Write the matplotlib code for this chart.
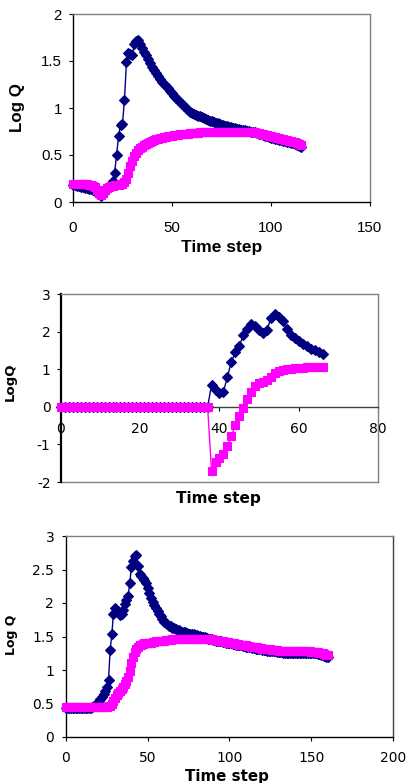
import matplotlib
matplotlib.use("Agg")
import matplotlib.pyplot as plt
import numpy as np

# ---------------- data ----------------
# Chart 1 (time steps 0..115)
t1 = list(range(0, 116))
blue1 = [0.18, 0.18, 0.17, 0.17, 0.16, 0.16, 0.15, 0.15, 0.14, 0.14,
         0.13, 0.12, 0.10, 0.08, 0.06, 0.09, 0.12, 0.15, 0.16, 0.18,
         0.22, 0.31, 0.50, 0.70, 0.82, 0.83, 1.09, 1.49, 1.58, 1.57,
         1.56, 1.68, 1.71, 1.72, 1.68, 1.64, 1.60, 1.56, 1.52, 1.48,
         1.44, 1.40, 1.37, 1.34, 1.31, 1.28, 1.26, 1.23, 1.21, 1.18,
         1.16, 1.13, 1.11, 1.08, 1.06, 1.04, 1.02, 1.00, 0.98, 0.96,
         0.95, 0.94, 0.93, 0.92, 0.91, 0.90, 0.89, 0.88, 0.87, 0.86,
         0.86, 0.85, 0.84, 0.84, 0.83, 0.82, 0.82, 0.81, 0.81, 0.80,
         0.80, 0.79, 0.79, 0.78, 0.78, 0.77, 0.77, 0.77, 0.76, 0.76,
         0.75, 0.75, 0.74, 0.73, 0.72, 0.72, 0.71, 0.70, 0.70, 0.69,
         0.68, 0.68, 0.67, 0.67, 0.66, 0.66, 0.65, 0.65, 0.64, 0.64,
         0.63, 0.63, 0.62, 0.61, 0.60, 0.59]
magenta1 = [0.19, 0.19, 0.19, 0.19, 0.19, 0.19, 0.19, 0.19, 0.18, 0.18,
            0.17, 0.16, 0.13, 0.10, 0.07, 0.10, 0.13, 0.15, 0.16, 0.17,
            0.17, 0.18, 0.18, 0.18, 0.19, 0.19, 0.21, 0.25, 0.31, 0.38,
            0.44, 0.49, 0.52, 0.55, 0.57, 0.59, 0.61, 0.62, 0.63, 0.64,
            0.65, 0.66, 0.67, 0.67, 0.68, 0.68, 0.69, 0.69, 0.70, 0.70,
            0.70, 0.71, 0.71, 0.71, 0.72, 0.72, 0.72, 0.72, 0.72, 0.73,
            0.73, 0.73, 0.73, 0.73, 0.74, 0.74, 0.74, 0.74, 0.74, 0.74,
            0.75, 0.75, 0.75, 0.75, 0.75, 0.75, 0.75, 0.75, 0.75, 0.75,
            0.75, 0.75, 0.75, 0.75, 0.75, 0.75, 0.75, 0.75, 0.75, 0.75,
            0.75, 0.74, 0.74, 0.73, 0.73, 0.72, 0.72, 0.71, 0.71, 0.70,
            0.70, 0.69, 0.69, 0.68, 0.68, 0.67, 0.67, 0.66, 0.66, 0.65,
            0.65, 0.64, 0.64, 0.63, 0.62, 0.61]

# Chart 2 (time steps 0..66)
t2 = list(range(0, 67))
blue2 = [0.0, 0.0, 0.0, 0.0, 0.0, 0.0, 0.0, 0.0, 0.0, 0.0,
         0.0, 0.0, 0.0, 0.0, 0.0, 0.0, 0.0, 0.0, 0.0, 0.0,
         0.0, 0.0, 0.0, 0.0, 0.0, 0.0, 0.0, 0.0, 0.0, 0.0,
         0.0, 0.0, 0.0, 0.0, 0.0, 0.0, 0.0, 0.0,
         0.58, 0.45, 0.36, 0.40, 0.80, 1.20, 1.45, 1.62, 1.90, 2.08,
         2.20, 2.15, 2.05, 1.96, 2.05, 2.37, 2.46, 2.38, 2.27, 2.07,
         1.92, 1.82, 1.74, 1.67, 1.61, 1.55, 1.50, 1.45, 1.40]
magenta2 = [0.0, 0.0, 0.0, 0.0, 0.0, 0.0, 0.0, 0.0, 0.0, 0.0,
            0.0, 0.0, 0.0, 0.0, 0.0, 0.0, 0.0, 0.0, 0.0, 0.0,
            0.0, 0.0, 0.0, 0.0, 0.0, 0.0, 0.0, 0.0, 0.0, 0.0,
            0.0, 0.0, 0.0, 0.0, 0.0, 0.0, 0.0, 0.0,
            -1.72, -1.47, -1.35, -1.25, -1.05, -0.78, -0.48, -0.25, -0.02, 0.20,
            0.40, 0.55, 0.62, 0.66, 0.72, 0.80, 0.90, 0.96, 0.99, 1.00,
            1.01, 1.02, 1.03, 1.04, 1.05, 1.05, 1.05, 1.05, 1.05]

# Chart 3 (time steps 0..160)
t3 = list(range(0, 161))
blue3 = [0.44, 0.44, 0.44, 0.44, 0.44, 0.44, 0.44, 0.44, 0.44, 0.44,
         0.44, 0.44, 0.44, 0.44, 0.44, 0.44, 0.45, 0.46, 0.48, 0.50,
         0.53, 0.56, 0.60, 0.64, 0.68, 0.74, 0.85, 1.30, 1.53, 1.83,
         1.92, 1.86, 1.88, 1.82, 1.84, 1.90, 1.98, 2.04, 2.10, 2.30,
         2.54, 2.62, 2.70, 2.71, 2.55, 2.43, 2.40, 2.37, 2.34, 2.30,
         2.22, 2.15, 2.08, 2.02, 1.97, 1.92, 1.88, 1.84, 1.80, 1.76,
         1.72, 1.70, 1.68, 1.66, 1.65, 1.63, 1.62, 1.61, 1.60, 1.59,
         1.58, 1.57, 1.56, 1.56, 1.55, 1.54, 1.54, 1.53, 1.53, 1.52,
         1.52, 1.51, 1.51, 1.50, 1.50, 1.49, 1.48, 1.47, 1.47, 1.46,
         1.45, 1.45, 1.44, 1.44, 1.43, 1.43, 1.42, 1.42, 1.41, 1.41,
         1.40, 1.40, 1.39, 1.39, 1.38, 1.38, 1.37, 1.37, 1.36, 1.36,
         1.35, 1.35, 1.34, 1.34, 1.33, 1.33, 1.32, 1.32, 1.31, 1.31,
         1.30, 1.30, 1.30, 1.29, 1.29, 1.29, 1.28, 1.28, 1.28, 1.27,
         1.27, 1.27, 1.27, 1.26, 1.26, 1.26, 1.26, 1.26, 1.25, 1.25,
         1.25, 1.25, 1.25, 1.25, 1.25, 1.25, 1.25, 1.25, 1.25, 1.25,
         1.25, 1.25, 1.25, 1.25, 1.24, 1.24, 1.23, 1.22, 1.21, 1.20,
         1.19]
magenta3 = [0.45, 0.45, 0.45, 0.45, 0.45, 0.45, 0.45, 0.45, 0.45, 0.45,
            0.45, 0.45, 0.45, 0.45, 0.45, 0.45, 0.45, 0.45, 0.45, 0.45,
            0.45, 0.45, 0.45, 0.45, 0.45, 0.45, 0.46, 0.47, 0.50, 0.54,
            0.58, 0.62, 0.66, 0.69, 0.72, 0.75, 0.79, 0.84, 0.90, 0.98,
            1.10, 1.20, 1.27, 1.32, 1.35, 1.37, 1.38, 1.39, 1.40, 1.40,
            1.41, 1.41, 1.41, 1.42, 1.42, 1.43, 1.43, 1.43, 1.44, 1.44,
            1.44, 1.45, 1.45, 1.45, 1.45, 1.46, 1.46, 1.46, 1.46, 1.46,
            1.46, 1.46, 1.47, 1.47, 1.47, 1.47, 1.47, 1.47, 1.47, 1.47,
            1.47, 1.47, 1.47, 1.47, 1.47, 1.47, 1.47, 1.46, 1.46, 1.46,
            1.45, 1.45, 1.45, 1.44, 1.44, 1.43, 1.43, 1.42, 1.42, 1.42,
            1.41, 1.41, 1.40, 1.40, 1.39, 1.39, 1.38, 1.38, 1.38, 1.37,
            1.37, 1.36, 1.36, 1.35, 1.35, 1.34, 1.34, 1.34, 1.33, 1.33,
            1.32, 1.32, 1.32, 1.31, 1.31, 1.31, 1.30, 1.30, 1.30, 1.30,
            1.29, 1.29, 1.29, 1.29, 1.28, 1.28, 1.28, 1.28, 1.28, 1.28,
            1.28, 1.28, 1.28, 1.28, 1.28, 1.28, 1.28, 1.28, 1.28, 1.28,
            1.27, 1.27, 1.27, 1.27, 1.27, 1.26, 1.26, 1.25, 1.24, 1.23,
            1.22]

xticks1 = [0, 50, 100, 150]
yticks1 = [0, 0.5, 1, 1.5, 2]
yticklabels1 = ["0", "0.5", "1", "1.5", "2"]
xticks2 = [0, 20, 40, 60, 80]
yticks2 = [-2, -1, 0, 1, 2, 3]
yticklabels2 = ["-2", "-1", "0", "1", "2", "3"]
xticks3 = [0, 50, 100, 150, 200]
yticks3 = [0, 0.5, 1, 1.5, 2, 2.5, 3]
yticklabels3 = ["0", "0.5", "1", "1.5", "2", "2.5", "3"]

# ---------------- style ----------------
NAVY = "#000080"
MAG = "#FF00FF"
GRAY = "#808080"

W, H = 414, 783
fig = plt.figure(figsize=(W / 100, H / 100), dpi=100)


def px_axes(l, r, t, b):
    return fig.add_axes([l / W, 1 - b / H, (r - l) / W, (b - t) / H])


def draw(ax, t, b, m):
    ax.plot(t, b, color=NAVY, lw=1.0, marker="D", ms=5.0, mec=NAVY,
            mfc=NAVY, mew=0.8, zorder=3, clip_on=False)
    ax.plot(t, m, color=MAG, lw=1.0, marker="s", ms=5.4, mec=MAG,
            mfc=MAG, mew=0.8, zorder=4, clip_on=False)


def frame(ax):
    for s in ("top", "right"):
        ax.spines[s].set_color(GRAY)
        ax.spines[s].set_linewidth(1.0)
    for s in ("left", "bottom"):
        ax.spines[s].set_color("black")
        ax.spines[s].set_linewidth(1.0)
    ax.tick_params(direction="out", length=3, width=0.8, colors="black")


# ---- chart 1 ----
ax1 = px_axes(73, 370, 14, 202)
draw(ax1, t1, blue1, magenta1)
ax1.set_xlim(0, 150)
ax1.set_ylim(0, 2)
ax1.set_xticks(xticks1)
ax1.set_yticks(yticks1)
ax1.set_yticklabels(yticklabels1)
frame(ax1)
f1 = "Liberation Sans"
for lab in ax1.get_xticklabels() + ax1.get_yticklabels():
    lab.set_fontfamily(f1)
    lab.set_fontsize(10.8)
ax1.tick_params(axis="x", pad=10.5)
ax1.tick_params(axis="y", pad=5)
ax1.set_xlabel("Time step", fontfamily=f1, fontsize=12.5, fontweight="bold")
ax1.set_ylabel("Log Q", fontfamily=f1, fontsize=12.2, fontweight="bold")
ax1.xaxis.set_label_coords(0.5, -0.20)
ax1.yaxis.set_label_coords(-0.162, 0.503)

# ---- chart 2 ----
ax2 = px_axes(61, 378, 294, 482)
draw(ax2, t2, blue2, magenta2)
ax2.set_xlim(0, 80)
ax2.set_ylim(-2, 3)
ax2.set_xticks(xticks2)
ax2.set_yticks(yticks2)
ax2.set_yticklabels(yticklabels2)
frame(ax2)
ax2.spines["bottom"].set_position(("data", 0))
ax2.spines["bottom"].set_color("#404040")
ax2.spines["left"].set_linewidth(1.6)
ax2.plot([0, 1], [0, 0], transform=ax2.transAxes, color=GRAY, lw=1.0,
         clip_on=False, zorder=2)
f2 = "DejaVu Sans"
for lab in ax2.get_xticklabels() + ax2.get_yticklabels():
    lab.set_fontfamily(f2)
    lab.set_fontsize(10)
ax2.tick_params(axis="x", pad=8)
ax2.tick_params(axis="y", pad=4.5)
ax2.set_xlabel("Time step", fontfamily=f2, fontsize=11, fontweight="bold")
ax2.set_ylabel("LogQ", fontfamily=f2, fontsize=9.5, fontweight="bold")
ax2.xaxis.set_label_coords(0.497, -0.048)
ax2.yaxis.set_label_coords(-0.14, 0.532)

# ---- chart 3 ----
ax3 = px_axes(66, 393, 536, 737)
draw(ax3, t3, blue3, magenta3)
ax3.set_xlim(0, 200)
ax3.set_ylim(0, 3)
ax3.set_xticks(xticks3)
ax3.set_yticks(yticks3)
ax3.set_yticklabels(yticklabels3)
frame(ax3)
ax3.spines["right"].set_color("#404040")
f3 = "DejaVu Sans"
for lab in ax3.get_xticklabels() + ax3.get_yticklabels():
    lab.set_fontfamily(f3)
    lab.set_fontsize(10)
ax3.tick_params(axis="x", pad=7)
ax3.tick_params(axis="y", pad=5.5)
ax3.set_xlabel("Time step", fontfamily=f3, fontsize=10.8, fontweight="bold")
ax3.set_ylabel("Log Q", fontfamily=f3, fontsize=9, fontweight="bold")
ax3.xaxis.set_label_coords(0.491, -0.16)
ax3.yaxis.set_label_coords(-0.147, 0.507)

fig.savefig("out.png", dpi=100)
